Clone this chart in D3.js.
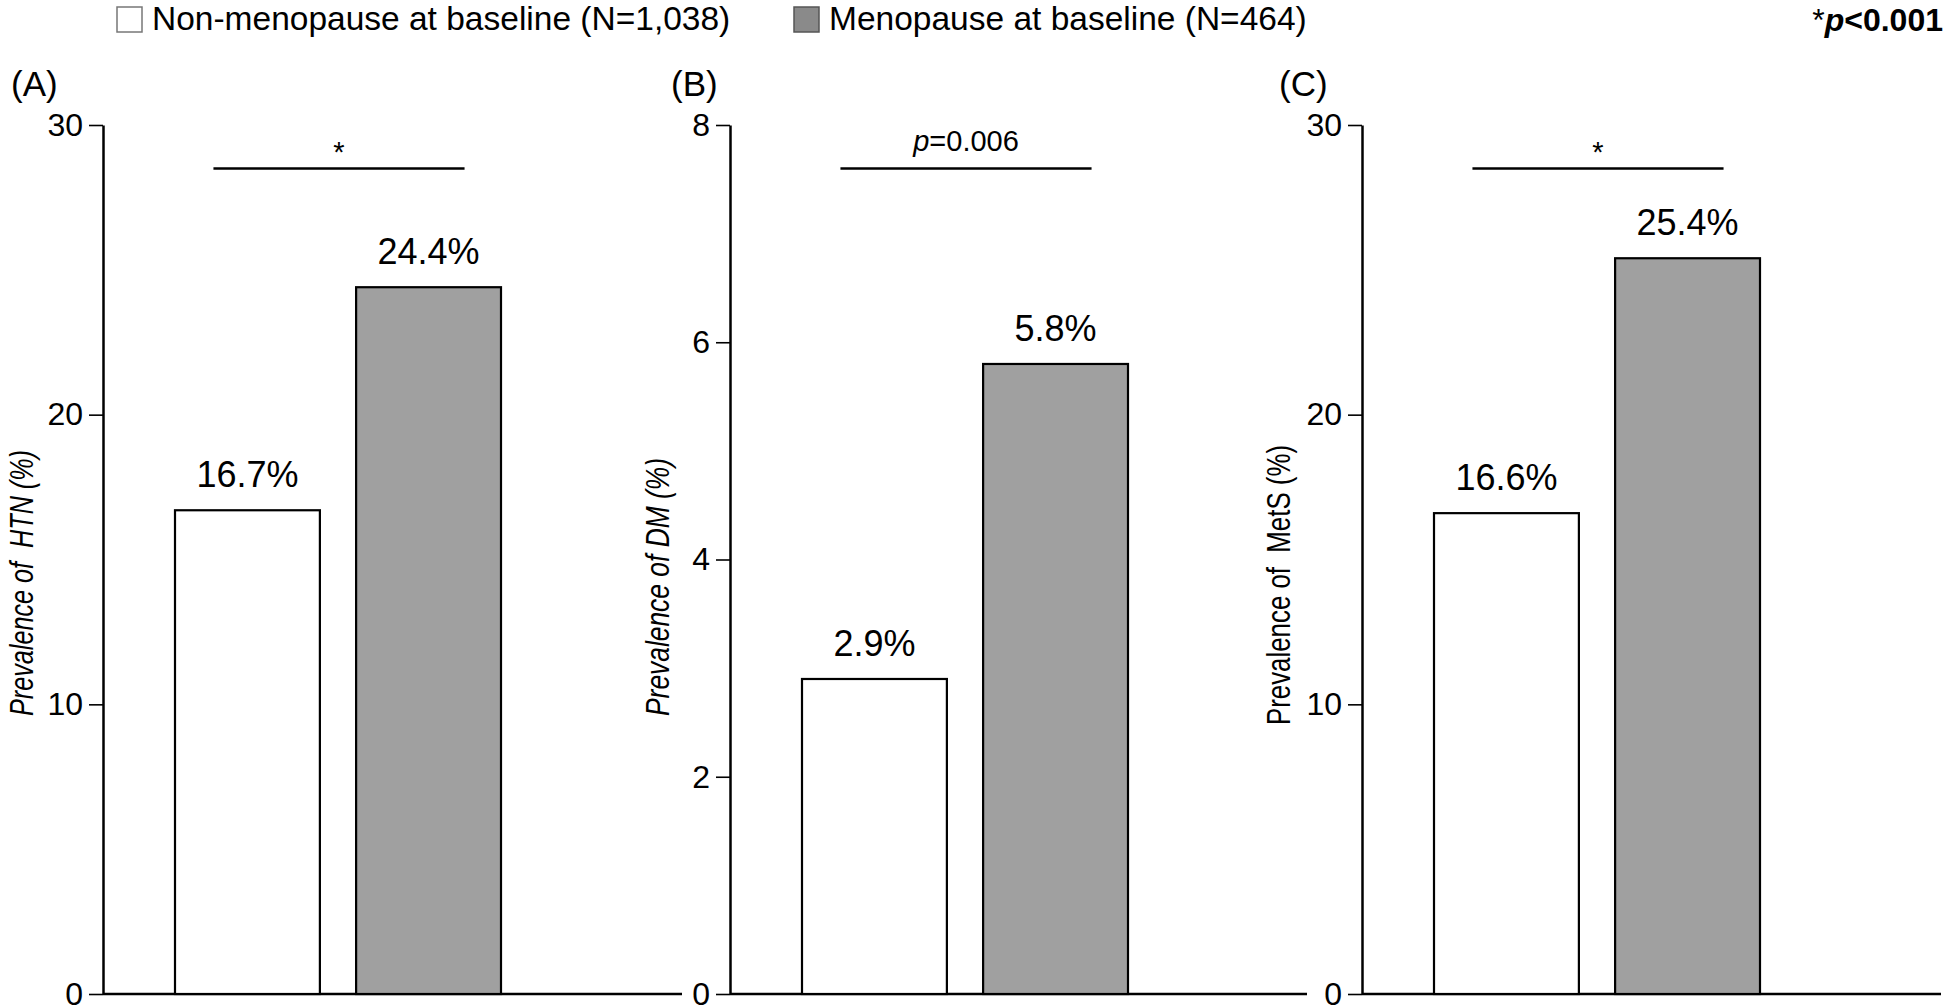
<!DOCTYPE html>
<html>
<head>
<meta charset="utf-8">
<script src="https://cdn.jsdelivr.net/npm/d3@7"></script>
<style>
  html, body { margin: 0; padding: 0; background: #fff; }
  svg { display: block; font-family: "Liberation Sans", Arial, sans-serif; }
  .tick text, .ytitle, .foot { font-family: "Liberation Sans Narrow", "Arial Narrow", "Liberation Sans", sans-serif; }
</style>
</head>
<body>
<svg id="chart" width="1946" height="1007"></svg>
<script>
// ---- data ----
const groups = ["Non-menopause at baseline (N=1,038)", "Menopause at baseline (N=464)"];
const groupKeys = ["non", "meno"];
const groupFills = ["#ffffff", "#a0a0a0"];
const panelLabels = ["(A)", "(B)", "(C)"];
const yTitles = ["Prevalence of  HTN (%)", "Prevalence of DM (%)", "Prevalence of  MetS (%)"];
const yTitleItalic = [true, true, false];
const yMax = [30, 8, 30];
const yTicks = [[0, 10, 20, 30], [0, 2, 4, 6, 8], [0, 10, 20, 30]];
const valuesNon = [16.7, 2.9, 16.6];
const valuesMeno = [24.4, 5.8, 25.4];
const sigText = ["*", "p=0.006", "*"];
const sigLevel = [28.5, 7.6, 28.5];
const footNote = "*p<0.001";

// ---- layout ----
const svg = d3.select("#chart");
const yTop = 125, yBottom = 994;
const axisX = [103, 730, 1362];
const axisEnd = [682, 1307, 1941];
const titleX = [33, 669, 1290];
const titleBottom = [716, 716, 725];
const titleLen = [266, 258, 280];
const panelLabelX = [11, 671, 1279];

const x = d3.scaleBand().domain(groupKeys).range([72, 398]).paddingInner(0.2).paddingOuter(0);

for (let i = 0; i < 3; i++) {
  const g = svg.append("g").attr("transform", `translate(${axisX[i]},0)`);
  const y = d3.scaleLinear().domain([0, yMax[i]]).range([yBottom, yTop]);

  // x axis line
  g.append("line")
    .attr("x1", 0).attr("x2", axisEnd[i] - axisX[i])
    .attr("y1", y(0)).attr("y2", y(0))
    .attr("stroke", "#000").attr("stroke-width", 2.5);

  // y axis
  const ax = g.append("g")
    .call(d3.axisLeft(y).tickValues(yTicks[i]).tickSize(14).tickSizeOuter(0).tickPadding(6).tickFormat(d3.format("d")));
  ax.select(".domain").attr("stroke", "#000").attr("stroke-width", 2.5);
  ax.selectAll(".tick line").attr("stroke", "#000").attr("stroke-width", 1.6);
  ax.selectAll(".tick text").attr("font-size", 32).attr("fill", "#000");

  // bars
  const vals = [valuesNon[i], valuesMeno[i]];
  g.selectAll("rect.bar").data(groupKeys).enter().append("rect")
    .attr("class", "bar")
    .attr("x", d => x(d))
    .attr("width", x.bandwidth())
    .attr("y", (d, j) => y(vals[j]))
    .attr("height", (d, j) => y(0) - y(vals[j]))
    .attr("fill", (d, j) => groupFills[j])
    .attr("stroke", "#000").attr("stroke-width", 2.2);

  // value labels
  g.selectAll("text.val").data(groupKeys).enter().append("text")
    .attr("class", "val")
    .attr("x", d => x(d) + x.bandwidth() / 2)
    .attr("y", (d, j) => y(vals[j]) - 23)
    .attr("text-anchor", "middle")
    .attr("font-size", 36)
    .attr("fill", "#000")
    .text((d, j) => vals[j].toFixed(1) + "%");

  // significance line
  const sx1 = x("non") + x.bandwidth() / 2 - 34;
  const sx2 = x("meno") + x.bandwidth() / 2 + 36;
  g.append("line")
    .attr("x1", sx1).attr("x2", sx2)
    .attr("y1", y(sigLevel[i])).attr("y2", y(sigLevel[i]))
    .attr("stroke", "#000").attr("stroke-width", 2.5);
  const st = g.append("text")
    .attr("x", (sx1 + sx2) / 2)
    .attr("text-anchor", "middle")
    .attr("fill", "#000");
  if (sigText[i] === "*") {
    st.attr("y", y(sigLevel[i]) - 6).attr("font-size", 29).text("*");
  } else {
    st.attr("y", y(sigLevel[i]) - 17).attr("font-size", 29);
    st.append("tspan").attr("font-style", "italic").text("p");
    st.append("tspan").text(sigText[i].slice(1));
  }

  // panel label
  svg.append("text")
    .attr("x", panelLabelX[i]).attr("y", 96)
    .attr("font-size", 35).attr("fill", "#000")
    .text(panelLabels[i]);

  // y title
  svg.append("text")
    .attr("class", "ytitle")
    .attr("transform", `translate(${titleX[i]},${titleBottom[i]}) rotate(-90)`)
    .attr("text-anchor", "start")
    .attr("font-size", 33)
    .attr("font-style", yTitleItalic[i] ? "italic" : "normal")
    .attr("textLength", titleLen[i])
    .attr("lengthAdjust", "spacingAndGlyphs")
    .style("white-space", "pre")
    .attr("fill", "#000")
    .text(yTitles[i]);
}

// ---- legend ----
const legendBoxX = [117, 794];
const legendBoxFill = ["#ffffff", "#8a8a8a"];
const legendBoxStroke = ["#777", "#555"];
groups.forEach((name, j) => {
  svg.append("rect")
    .attr("x", legendBoxX[j]).attr("y", 7)
    .attr("width", 25).attr("height", 25)
    .attr("fill", legendBoxFill[j])
    .attr("stroke", legendBoxStroke[j]).attr("stroke-width", 1.5);
  svg.append("text")
    .attr("x", legendBoxX[j] + 35).attr("y", 30)
    .attr("font-size", 33.5).attr("fill", "#000")
    .text(name);
});

// foot note
const fn = svg.append("text")
  .attr("class", "foot")
  .attr("x", 1943).attr("y", 31)
  .attr("text-anchor", "end")
  .attr("font-size", 32).attr("font-weight", "bold").attr("fill", "#000");
fn.append("tspan").attr("font-weight", "normal").text(footNote.slice(0, 1));
fn.append("tspan").attr("font-style", "italic").text(footNote.slice(1, 2));
fn.append("tspan").text(footNote.slice(2));
</script>
</body>
</html>
